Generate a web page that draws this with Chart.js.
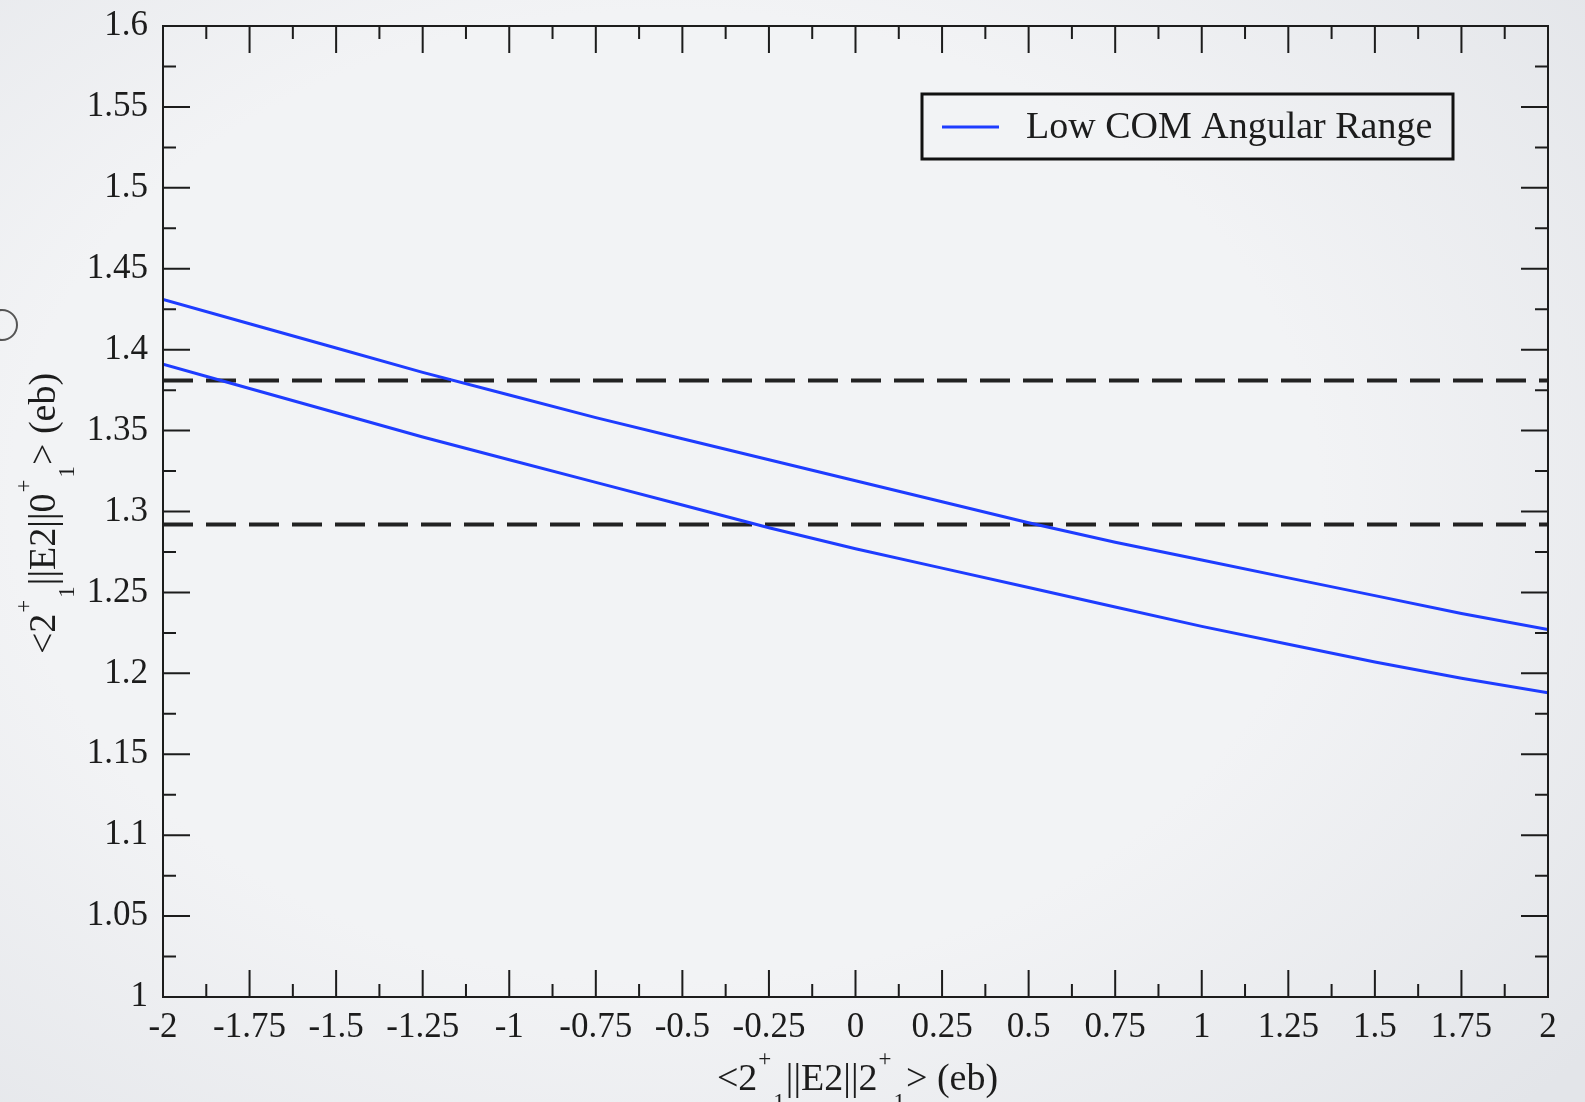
<!DOCTYPE html>
<html>
<head>
<meta charset="utf-8">
<script src="https://cdn.jsdelivr.net/npm/chart.js@4.4.1/dist/chart.umd.min.js"></script>
<style>
  html, body { margin: 0; padding: 0; width: 1585px; height: 1102px; overflow: hidden; }
  body { background: radial-gradient(ellipse 75% 80% at 42% 45%, #f2f3f5 55%, #e3e5e9 100%); }
  #wrap { position: relative; width: 1585px; height: 1102px; }
  .blob { position: absolute; left: -14px; top: 309px; width: 28px; height: 28px; border: 2px solid #555; border-radius: 50%; }
</style>
</head>
<body>
<div id="wrap">
  <canvas id="chart" width="1585" height="1102"></canvas>
  <div class="blob"></div>
</div>
<script>
// x = <2+1||E2||2+1> (eb), sampled every 0.25
const xValues = [-2, -1.75, -1.5, -1.25, -1, -0.75, -0.5, -0.25, 0, 0.25, 0.5, 0.75, 1, 1.25, 1.5, 1.75, 2];
const upperBound = [1.431, 1.416, 1.401, 1.386, 1.372, 1.358, 1.345, 1.332, 1.319, 1.306, 1.293, 1.281, 1.270, 1.259, 1.248, 1.237, 1.227];
const lowerBound = [1.391, 1.376, 1.361, 1.346, 1.332, 1.318, 1.304, 1.290, 1.277, 1.265, 1.253, 1.241, 1.229, 1.218, 1.207, 1.197, 1.188];
const dashedLevels = [1.381, 1.292];
const xTicks = [-2, -1.75, -1.5, -1.25, -1, -0.75, -0.5, -0.25, 0, 0.25, 0.5, 0.75, 1, 1.25, 1.5, 1.75, 2];
const yTicks = [1, 1.05, 1.1, 1.15, 1.2, 1.25, 1.3, 1.35, 1.4, 1.45, 1.5, 1.55, 1.6];
const legendLabel = 'Low COM Angular Range';

const blue = '#1e3cff';
const ink = '#1c1c1c';
const serif = '"Liberation Serif", "Times New Roman", serif';

const fmt = (v) => String(Number(v.toFixed(3)));
const pts = (ys) => xValues.map((x, i) => ({ x, y: ys[i] }));

// inward major/minor ticks on all four sides + frame
const frameTicks = {
  id: 'frameTicks',
  afterDatasetsDraw(chart) {
    const { ctx, chartArea: a, scales: { x, y } } = chart;
    const major = 27, minor = 13;
    ctx.save();
    ctx.strokeStyle = ink;
    ctx.lineWidth = 2;
    ctx.beginPath();
    const xt = (v, len) => {
      const px = x.getPixelForValue(v);
      ctx.moveTo(px, a.bottom); ctx.lineTo(px, a.bottom - len);
      ctx.moveTo(px, a.top); ctx.lineTo(px, a.top + len);
    };
    const yt = (v, len) => {
      const py = y.getPixelForValue(v);
      ctx.moveTo(a.left, py); ctx.lineTo(a.left + len, py);
      ctx.moveTo(a.right, py); ctx.lineTo(a.right - len, py);
    };
    xTicks.forEach((v, i) => {
      xt(v, major);
      if (i < xTicks.length - 1) xt((v + xTicks[i + 1]) / 2, minor);
    });
    yTicks.forEach((v, i) => {
      yt(v, major);
      if (i < yTicks.length - 1) yt((v + yTicks[i + 1]) / 2, minor);
    });
    ctx.stroke();
    ctx.strokeRect(a.left, a.top, a.width, a.height);
    ctx.restore();
  }
};

// legend box inside the plot, upper right
const boxLegend = {
  id: 'boxLegend',
  afterDraw(chart) {
    const { ctx, chartArea: a } = chart;
    const ds = chart.data.datasets[0];
    const left = a.right - 626, top = a.top + 68, w = 531, h = 65;
    ctx.save();
    ctx.strokeStyle = '#111';
    ctx.lineWidth = 3;
    ctx.strokeRect(left, top, w, h);
    ctx.strokeStyle = ds.borderColor;
    ctx.lineWidth = 3;
    ctx.beginPath();
    ctx.moveTo(left + 20, top + 33);
    ctx.lineTo(left + 77, top + 33);
    ctx.stroke();
    ctx.fillStyle = ink;
    ctx.font = '38px ' + serif;
    ctx.textBaseline = 'middle';
    ctx.fillText(ds.label, left + 104, top + 34);
    ctx.restore();
  }
};

// axis titles with superscript / subscript pieces
const drawRich = (ctx, parts, size) => {
  const small = Math.round(size * 0.6);
  const widths = parts.map(([t, s]) => {
    ctx.font = (s ? small : size) + 'px ' + serif;
    return ctx.measureText(t).width + (s ? 2 : 0);
  });
  let cx = -widths.reduce((p, c) => p + c, 0) / 2;
  parts.forEach(([t, s], i) => {
    ctx.font = (s ? small : size) + 'px ' + serif;
    const dy = s === 1 ? -24 : s === -1 ? 19 : 0;
    ctx.fillText(t, cx + (s ? 1 : 0), dy);
    cx += widths[i];
  });
};

const axisTitles = {
  id: 'axisTitles',
  afterDraw(chart) {
    const { ctx, chartArea: a } = chart;
    ctx.save();
    ctx.fillStyle = ink;
    ctx.textBaseline = 'alphabetic';
    ctx.textAlign = 'left';
    ctx.save();
    ctx.translate((a.left + a.right) / 2 + 2, 1090);
    drawRich(ctx, [['<2', 0], ['+', 1], ['1', -1], ['||E2||2', 0], ['+', 1], ['1', -1], ['> (eb)', 0]], 38);
    ctx.restore();
    ctx.save();
    ctx.translate(55, (a.top + a.bottom) / 2 + 2);
    ctx.rotate(-Math.PI / 2);
    drawRich(ctx, [['<2', 0], ['+', 1], ['1', -1], ['||E2||0', 0], ['+', 1], ['1', -1], ['> (eb)', 0]], 38);
    ctx.restore();
    ctx.restore();
  }
};

const lineSet = (label, ys) => ({
  label, data: pts(ys), borderColor: blue, backgroundColor: blue,
  borderWidth: 3, pointRadius: 0, tension: 0, fill: false
});
const dashSet = (level) => ({
  label: 'level ' + level,
  data: [{ x: xValues[0], y: level }, { x: xValues[xValues.length - 1], y: level }],
  borderColor: '#222', borderWidth: 4, borderDash: [30, 13], pointRadius: 0, fill: false
});

new Chart(document.getElementById('chart'), {
  type: 'line',
  data: {
    datasets: [
      lineSet(legendLabel, upperBound),
      lineSet(legendLabel, lowerBound),
      ...dashedLevels.map(dashSet)
    ]
  },
  options: {
    responsive: false,
    animation: false,
    layout: { padding: { top: 26, right: 37, left: 0, bottom: 0 } },
    plugins: { legend: { display: false }, tooltip: { enabled: false } },
    scales: {
      x: {
        type: 'linear', min: -2, max: 2,
        afterBuildTicks: (s) => { s.ticks = xTicks.map((v) => ({ value: v })); },
        afterFit: (s) => { s.height = 105; s.paddingLeft = 0; s.paddingRight = 0; },
        grid: { display: false, drawTicks: false },
        border: { display: false },
        ticks: {
          autoSkip: false, maxRotation: 0, padding: 10, color: ink,
          font: { family: serif, size: 35 },
          callback: (v) => fmt(v)
        }
      },
      y: {
        type: 'linear', min: 1, max: 1.6,
        afterBuildTicks: (s) => { s.ticks = yTicks.map((v) => ({ value: v })); },
        afterFit: (s) => { s.width = 163; s.paddingTop = 0; s.paddingBottom = 0; },
        grid: { display: false, drawTicks: false },
        border: { display: false },
        ticks: {
          autoSkip: false, padding: 15, color: ink,
          font: { family: serif, size: 35 },
          callback: (v) => fmt(v)
        }
      }
    }
  },
  plugins: [frameTicks, boxLegend, axisTitles]
});
</script>
</body>
</html>
